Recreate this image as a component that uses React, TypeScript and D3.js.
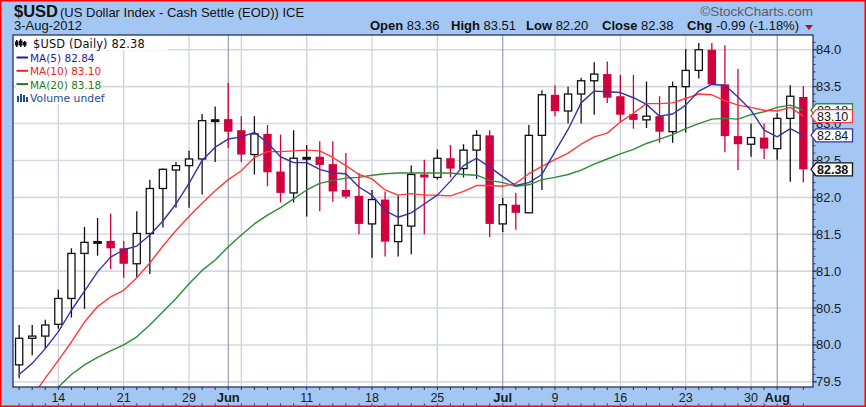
import React from "react";
import * as d3 from "d3";

// trading days shown (May 28 and Jul 4 are holidays)
const dates = [
  "2012-05-09", "2012-05-10", "2012-05-11", "2012-05-14", "2012-05-15", "2012-05-16", "2012-05-17", "2012-05-18",
  "2012-05-21", "2012-05-22", "2012-05-23", "2012-05-24", "2012-05-25", "2012-05-29", "2012-05-30", "2012-05-31",
  "2012-06-01", "2012-06-04", "2012-06-05", "2012-06-06", "2012-06-07", "2012-06-08", "2012-06-11", "2012-06-12",
  "2012-06-13", "2012-06-14", "2012-06-15", "2012-06-18", "2012-06-19", "2012-06-20", "2012-06-21", "2012-06-22",
  "2012-06-25", "2012-06-26", "2012-06-27", "2012-06-28", "2012-06-29", "2012-07-02", "2012-07-03", "2012-07-05",
  "2012-07-06", "2012-07-09", "2012-07-10", "2012-07-11", "2012-07-12", "2012-07-13", "2012-07-16", "2012-07-17",
  "2012-07-18", "2012-07-19", "2012-07-20", "2012-07-23", "2012-07-24", "2012-07-25", "2012-07-26", "2012-07-27",
  "2012-07-30", "2012-07-31", "2012-08-01", "2012-08-02", "2012-08-03",
];

const opens = [
  79.73, 80.09, 80.12, 80.28, 80.63, 81.24, 81.39, 81.41, 81.31, 81.10, 81.51, 82.12, 82.37, 82.43, 82.52, 83.03,
  83.06, 82.91, 82.58, 82.86, 82.35, 82.06, 82.52, 82.55, 82.45, 82.10, 82.02, 81.64, 81.97, 81.40, 81.61, 82.31,
  82.27, 82.53, 82.39, 82.64, 82.84, 81.64, 81.90, 81.79, 82.84, 83.39, 83.17, 83.40, 83.58, 83.67, 83.37, 83.13,
  83.05, 83.10, 82.89, 83.50, 83.72, 84.00, 83.53, 82.83, 82.72, 82.81, 82.66, 83.07, 83.36,
];
const highs = [
  80.27, 80.27, 80.34, 80.75, 81.31, 81.60, 81.72, 81.78, 81.41, 81.81, 82.24, 82.39, 82.48, 82.63, 83.13, 83.23,
  83.55, 83.10, 83.10, 82.98, 82.85, 82.91, 82.71, 82.76, 82.76, 82.60, 82.33, 82.10, 82.08, 82.03, 82.43, 82.51,
  82.65, 82.71, 82.72, 82.91, 82.91, 81.99, 82.06, 82.98, 83.45, 83.52, 83.50, 83.62, 83.83, 83.84, 83.66, 83.66,
  83.57, 83.37, 83.57, 84.01, 84.09, 84.09, 84.06, 83.74, 83.00, 83.00, 83.14, 83.52, 83.51,
];
const lows = [
  79.55, 79.86, 79.95, 80.22, 80.37, 80.49, 81.21, 81.03, 80.91, 80.92, 80.96, 81.59, 81.86, 81.86, 82.04, 82.48,
  82.67, 82.48, 82.31, 82.15, 81.93, 81.93, 81.74, 81.81, 81.94, 81.98, 81.50, 81.18, 81.20, 81.20, 81.23, 81.50,
  82.24, 82.27, 82.27, 82.25, 81.46, 81.53, 81.56, 81.79, 82.10, 83.10, 83.00, 83.00, 83.12, 83.28, 83.02, 82.93,
  82.94, 82.74, 82.74, 82.88, 83.61, 83.53, 82.61, 82.37, 82.55, 82.52, 82.51, 82.21, 82.20,
];
const closes = [
  80.09, 80.12, 80.27, 80.63, 81.24, 81.39, 81.40, 81.31, 81.10, 81.51, 82.12, 82.38, 82.43, 82.52, 83.04, 83.05,
  82.89, 82.58, 82.86, 82.34, 82.06, 82.53, 82.54, 82.44, 82.08, 82.01, 81.64, 81.97, 81.40, 81.62, 82.31, 82.27,
  82.53, 82.39, 82.64, 82.84, 81.64, 81.90, 81.79, 82.84, 83.39, 83.17, 83.40, 83.58, 83.67, 83.35, 83.12, 83.05,
  83.10, 82.89, 83.50, 83.72, 84.00, 83.53, 82.83, 82.72, 82.81, 82.66, 83.07, 83.37, 82.38,
];

const ma5 = [
  79.60, 79.75, 79.95, 80.18, 80.47, 80.73, 80.99, 81.19, 81.29, 81.34, 81.49, 81.68, 81.91, 82.19, 82.50, 82.68,
  82.79, 82.82, 82.88, 82.74, 82.55, 82.47, 82.47, 82.38, 82.33, 82.32, 82.14, 82.03, 81.82, 81.73, 81.79, 81.91,
  82.03, 82.22, 82.43, 82.53, 82.41, 82.28, 82.16, 82.20, 82.31, 82.62, 82.92, 83.28, 83.44, 83.43, 83.42, 83.35,
  83.26, 83.10, 83.13, 83.25, 83.44, 83.53, 83.52, 83.36, 83.18, 82.91, 82.82, 82.93, 82.84,
];
const ma10 = [
  79.10, 79.30, 79.55, 79.79, 80.04, 80.31, 80.52, 80.65, 80.74, 80.91, 81.11, 81.34, 81.55, 81.74, 81.92, 82.09,
  82.24, 82.36, 82.54, 82.62, 82.62, 82.63, 82.64, 82.63, 82.54, 82.43, 82.31, 82.25, 82.10, 82.03, 82.05, 82.03,
  82.03, 82.02, 82.08, 82.16, 82.16, 82.15, 82.19, 82.32, 82.42, 82.51, 82.60, 82.72, 82.82, 82.87, 83.02, 83.14,
  83.27, 83.27, 83.28, 83.34, 83.40, 83.39, 83.31, 83.25, 83.22, 83.18, 83.17, 83.22, 83.10,
];
const ma20 = [
  79.18, 79.26, 79.34, 79.43, 79.60, 79.73, 79.83, 79.92, 80.00, 80.11, 80.27, 80.45, 80.63, 80.83, 81.01, 81.15,
  81.33, 81.49, 81.64, 81.76, 81.86, 81.98, 82.10, 82.19, 82.23, 82.26, 82.27, 82.30, 82.32, 82.33, 82.33, 82.33,
  82.33, 82.33, 82.31, 82.30, 82.23, 82.20, 82.15, 82.17, 82.24, 82.27, 82.31, 82.37, 82.45, 82.52, 82.59, 82.65,
  82.73, 82.79, 82.85, 82.93, 83.00, 83.06, 83.07, 83.06, 83.12, 83.16, 83.22, 83.25, 83.18,
];

const priceTicks = [79.5, 80.0, 80.5, 81.0, 81.5, 82.0, 82.5, 83.0, 83.5, 84.0];
const monthNames = ["Jan", "Feb", "Mar", "Apr", "May", "Jun", "Jul", "Aug", "Sep", "Oct", "Nov", "Dec"];

const quote = [
  ["Open", "83.36"],
  ["High", "83.51"],
  ["Low", "82.20"],
  ["Close", "82.38"],
  ["Chg", "-0.99 (-1.18%)"],
];
const quoteX = [370, 451, 526, 602, 687];

const W = 866;
const H = 407;
const L = 13, R = 813, T = 35, B = 387;
const BG = "#A3C7F2";
const RED = "#D2003C";
const HEAD = "Liberation Sans, Arial, sans-serif";
const LEG = "DejaVu Sans, Verdana, sans-serif";

const parse = d3.timeParse("%Y-%m-%d");

export default function App() {
  const n = dates.length;
  const x = d3.scaleLinear().domain([-0.47, n - 1 + 0.74]).range([L, R]);
  const y = d3.scaleLinear().domain([79.43, 84.2]).range([B, T]);
  const days = dates.map((d) => parse(d) as Date);

  const weekStart = days.map((d, i) => i > 0 && d.getDay() < days[i - 1].getDay());
  const monthStart = days.map((d, i) => i > 0 && d.getMonth() !== days[i - 1].getMonth());

  const labels: { i: number; text: string; bold: boolean }[] = [];
  let lastMonth = -10;
  days.forEach((d, i) => {
    if (monthStart[i]) {
      labels.push({ i, text: monthNames[d.getMonth()], bold: true });
      lastMonth = i;
    } else if (weekStart[i] && i - lastMonth > 2) {
      labels.push({ i, text: String(d.getDate()), bold: false });
    }
  });

  const line = d3
    .line<number>()
    .x((_, i) => x(i))
    .y((v) => y(v));

  const minorTicks = d3.range(795, 842).map((v) => v / 10);

  const tag = (v: number, color: string, text: string, bold = false) => {
    const yy = y(v);
    const p = `M811,${yy} L816,${yy - 6.5} L852.5,${yy - 6.5} L852.5,${yy + 6.5} L816,${yy + 6.5} Z`;
    return (
      <g key={text + color}>
        <path d={p} fill="#fff" stroke={color} strokeWidth={1.3} />
        <text x={817} y={yy + 4.5} fontFamily={HEAD} fontSize={12.5} fontWeight={bold ? "bold" : "normal"} fill="#111">
          {text}
        </text>
      </g>
    );
  };

  return (
    <svg width={W} height={H} style={{ position: "absolute", left: 0, top: 0 }}>
      <defs>
        <clipPath id="plotClip">
          <rect x={L} y={T} width={R - L} height={B - T} />
        </clipPath>
      </defs>
      <rect x={0} y={0} width={W} height={H} fill={BG} />
      <rect x={0.75} y={0.75} width={W - 1.5} height={H - 1.5} fill="none" stroke="#FF0000" strokeWidth={1.5} />

      {/* header */}
      <text x={14} y={17} fontFamily={HEAD} fontSize={16.5} fontWeight="bold" fill="#111">$USD</text>
      <text x={60} y={17} fontFamily={HEAD} fontSize={13} fill="#111">(US Dollar Index - Cash Settle (EOD)) ICE</text>
      <text x={14} y={30} fontFamily={HEAD} fontSize={13} fill="#111">3-Aug-2012</text>
      <text x={813} y={15.5} textAnchor="end" fontFamily={HEAD} fontSize={13.5} fill="#5b5b66">©StockCharts.com</text>
      {quote.map(([k, v], i) => (
        <text key={k} x={quoteX[i]} y={30} fontFamily={HEAD} fontSize={13} fill="#111">
          <tspan fontWeight="bold">{k}</tspan>
          <tspan> {v}</tspan>
        </text>
      ))}
      <path d="M805,25 L813,25 L809,30 Z" fill="#B0103C" />

      {/* plot */}
      <rect x={L} y={T} width={R - L} height={B - T} fill="#fff" />
      {priceTicks.map((v) => (
        <line key={v} x1={L} x2={R} y1={y(v)} y2={y(v)} stroke="#D6D8E6" strokeWidth={1.6} />
      ))}
      {days.map((d, i) =>
        weekStart[i] && !monthStart[i] ? (
          <line key={"w" + i} x1={x(i)} x2={x(i)} y1={T} y2={B} stroke="#D2D4E2" strokeWidth={1.4} />
        ) : null
      )}
      {days.map((d, i) =>
        monthStart[i] ? (
          <line key={"m" + i} x1={x(i)} x2={x(i)} y1={T} y2={B} stroke="#8E96B2" strokeWidth={1.1} />
        ) : null
      )}

      {/* candles */}
      <g>
        {closes.map((c, i) => {
          const o = opens[i];
          const up = i === 0 || c >= closes[i - 1];
          const col = up ? "#111" : RED;
          const cx = x(i);
          const top = y(Math.max(o, c));
          const bot = y(Math.min(o, c));
          const h = Math.max(bot - top, 1.6);
          const hollow = c >= o;
          return (
            <g key={i}>
              <line x1={cx} x2={cx} y1={y(highs[i])} y2={y(lows[i])} stroke={col} strokeWidth={1.3} />
              {hollow ? (
                <rect x={cx - 3.6} y={top} width={7.2} height={h} fill={h > 2 ? "#fff" : col} stroke={col} strokeWidth={1.3} />
              ) : (
                <rect x={cx - 4.2} y={top} width={8.4} height={h} fill={col} />
              )}
            </g>
          );
        })}
      </g>

      {/* moving averages */}
      <g clipPath="url(#plotClip)" fill="none" strokeWidth={1.4} strokeLinejoin="round">
        <path d={line(ma20) || ""} stroke="#2E8B36" />
        <path d={line(ma10) || ""} stroke="#FF3A3A" />
        <path d={line(ma5) || ""} stroke="#3434A4" />
      </g>

      {/* legend */}
      <rect x={L + 0.5} y={T + 0.5} width={154} height={15} fill="#fff" />
      <g fill="#111">
        <rect x={16} y={40} width={1.5} height={7} />
        <rect x={15} y={41.5} width={3.5} height={4} />
        <rect x={20} y={39} width={1.5} height={8} />
        <rect x={19} y={40.5} width={3.5} height={5} />
        <rect x={24} y={41} width={1.5} height={6} />
        <rect x={23} y={42} width={3.5} height={3.5} />
      </g>
      <text x={33} y={48} fontFamily={LEG} fontSize={11.4} letterSpacing={0.15} fill="#111">$USD (Daily) 82.38</text>
      {[
        ["MA(5) 82.84", "#1E1E9A"],
        ["MA(10) 83.10", "#EE2222"],
        ["MA(20) 83.18", "#1E7A24"],
      ].map(([t, c], i) => (
        <g key={t}>
          <rect x={16} y={52 + i * 13.3} width={84} height={12} fill="#fff" />
          <line x1={16.5} x2={28} y1={57.5 + i * 13.3} y2={57.5 + i * 13.3} stroke={c} strokeWidth={2} />
          <text x={30} y={62 + i * 13.3} fontFamily={LEG} fontSize={10.5} fill={c}>{t}</text>
        </g>
      ))}
      <rect x={16} y={92} width={92} height={12} fill="#fff" />
      <g fill="#1F4C96">
        <rect x={17} y={96} width={2} height={6} />
        <rect x={20} y={94} width={2} height={8} />
        <rect x={23} y={95} width={2} height={7} />
        <rect x={26} y={97} width={2} height={5} />
      </g>
      <text x={30} y={102} fontFamily={LEG} fontSize={10.8} fill="#1F4C96">Volume undef</text>

      <rect x={L} y={T} width={R - L} height={B - T} fill="none" stroke="#1C2450" strokeWidth={1.2} />

      {/* y axis */}
      {minorTicks.map((v) => (
        <line key={"mt" + v} x1={R} x2={R + 2.5} y1={y(v)} y2={y(v)} stroke="#1C2450" strokeWidth={0.8} />
      ))}
      {priceTicks.map((v) => (
        <g key={"yt" + v}>
          <line x1={R} x2={R + 4} y1={y(v)} y2={y(v)} stroke="#1C2450" strokeWidth={1} />
          <text x={816} y={y(v) + 4.5} fontFamily={HEAD} fontSize={13} fill="#1a1a28">{v.toFixed(1)}</text>
        </g>
      ))}

      {/* x axis */}
      {days.map((d, i) => (
        <g key={"xt" + i}>
          <line x1={x(i)} x2={x(i)} y1={B} y2={B + 3} stroke="#1C2450" strokeWidth={0.9} />
          <line x1={x(i)} x2={x(i)} y1={403.5} y2={405.5} stroke="#1C2450" strokeWidth={0.9} />
        </g>
      ))}
      {labels.map((l) => (
        <text
          key={"xl" + l.i}
          x={x(l.i)}
          y={402}
          textAnchor="middle"
          fontFamily={HEAD}
          fontSize={l.bold ? 13 : 12.5}
          fontWeight={l.bold ? "bold" : "normal"}
          fill="#1a1a28"
        >
          {l.text}
        </text>
      ))}

      {/* last value tags */}
      {tag(ma20[n - 1], "#2E8B36", ma20[n - 1].toFixed(2))}
      {tag(ma10[n - 1], "#FF3A3A", ma10[n - 1].toFixed(2))}
      {tag(ma5[n - 1], "#3434A4", ma5[n - 1].toFixed(2))}
      {tag(closes[n - 1], "#111", closes[n - 1].toFixed(2), true)}
    </svg>
  );
}
